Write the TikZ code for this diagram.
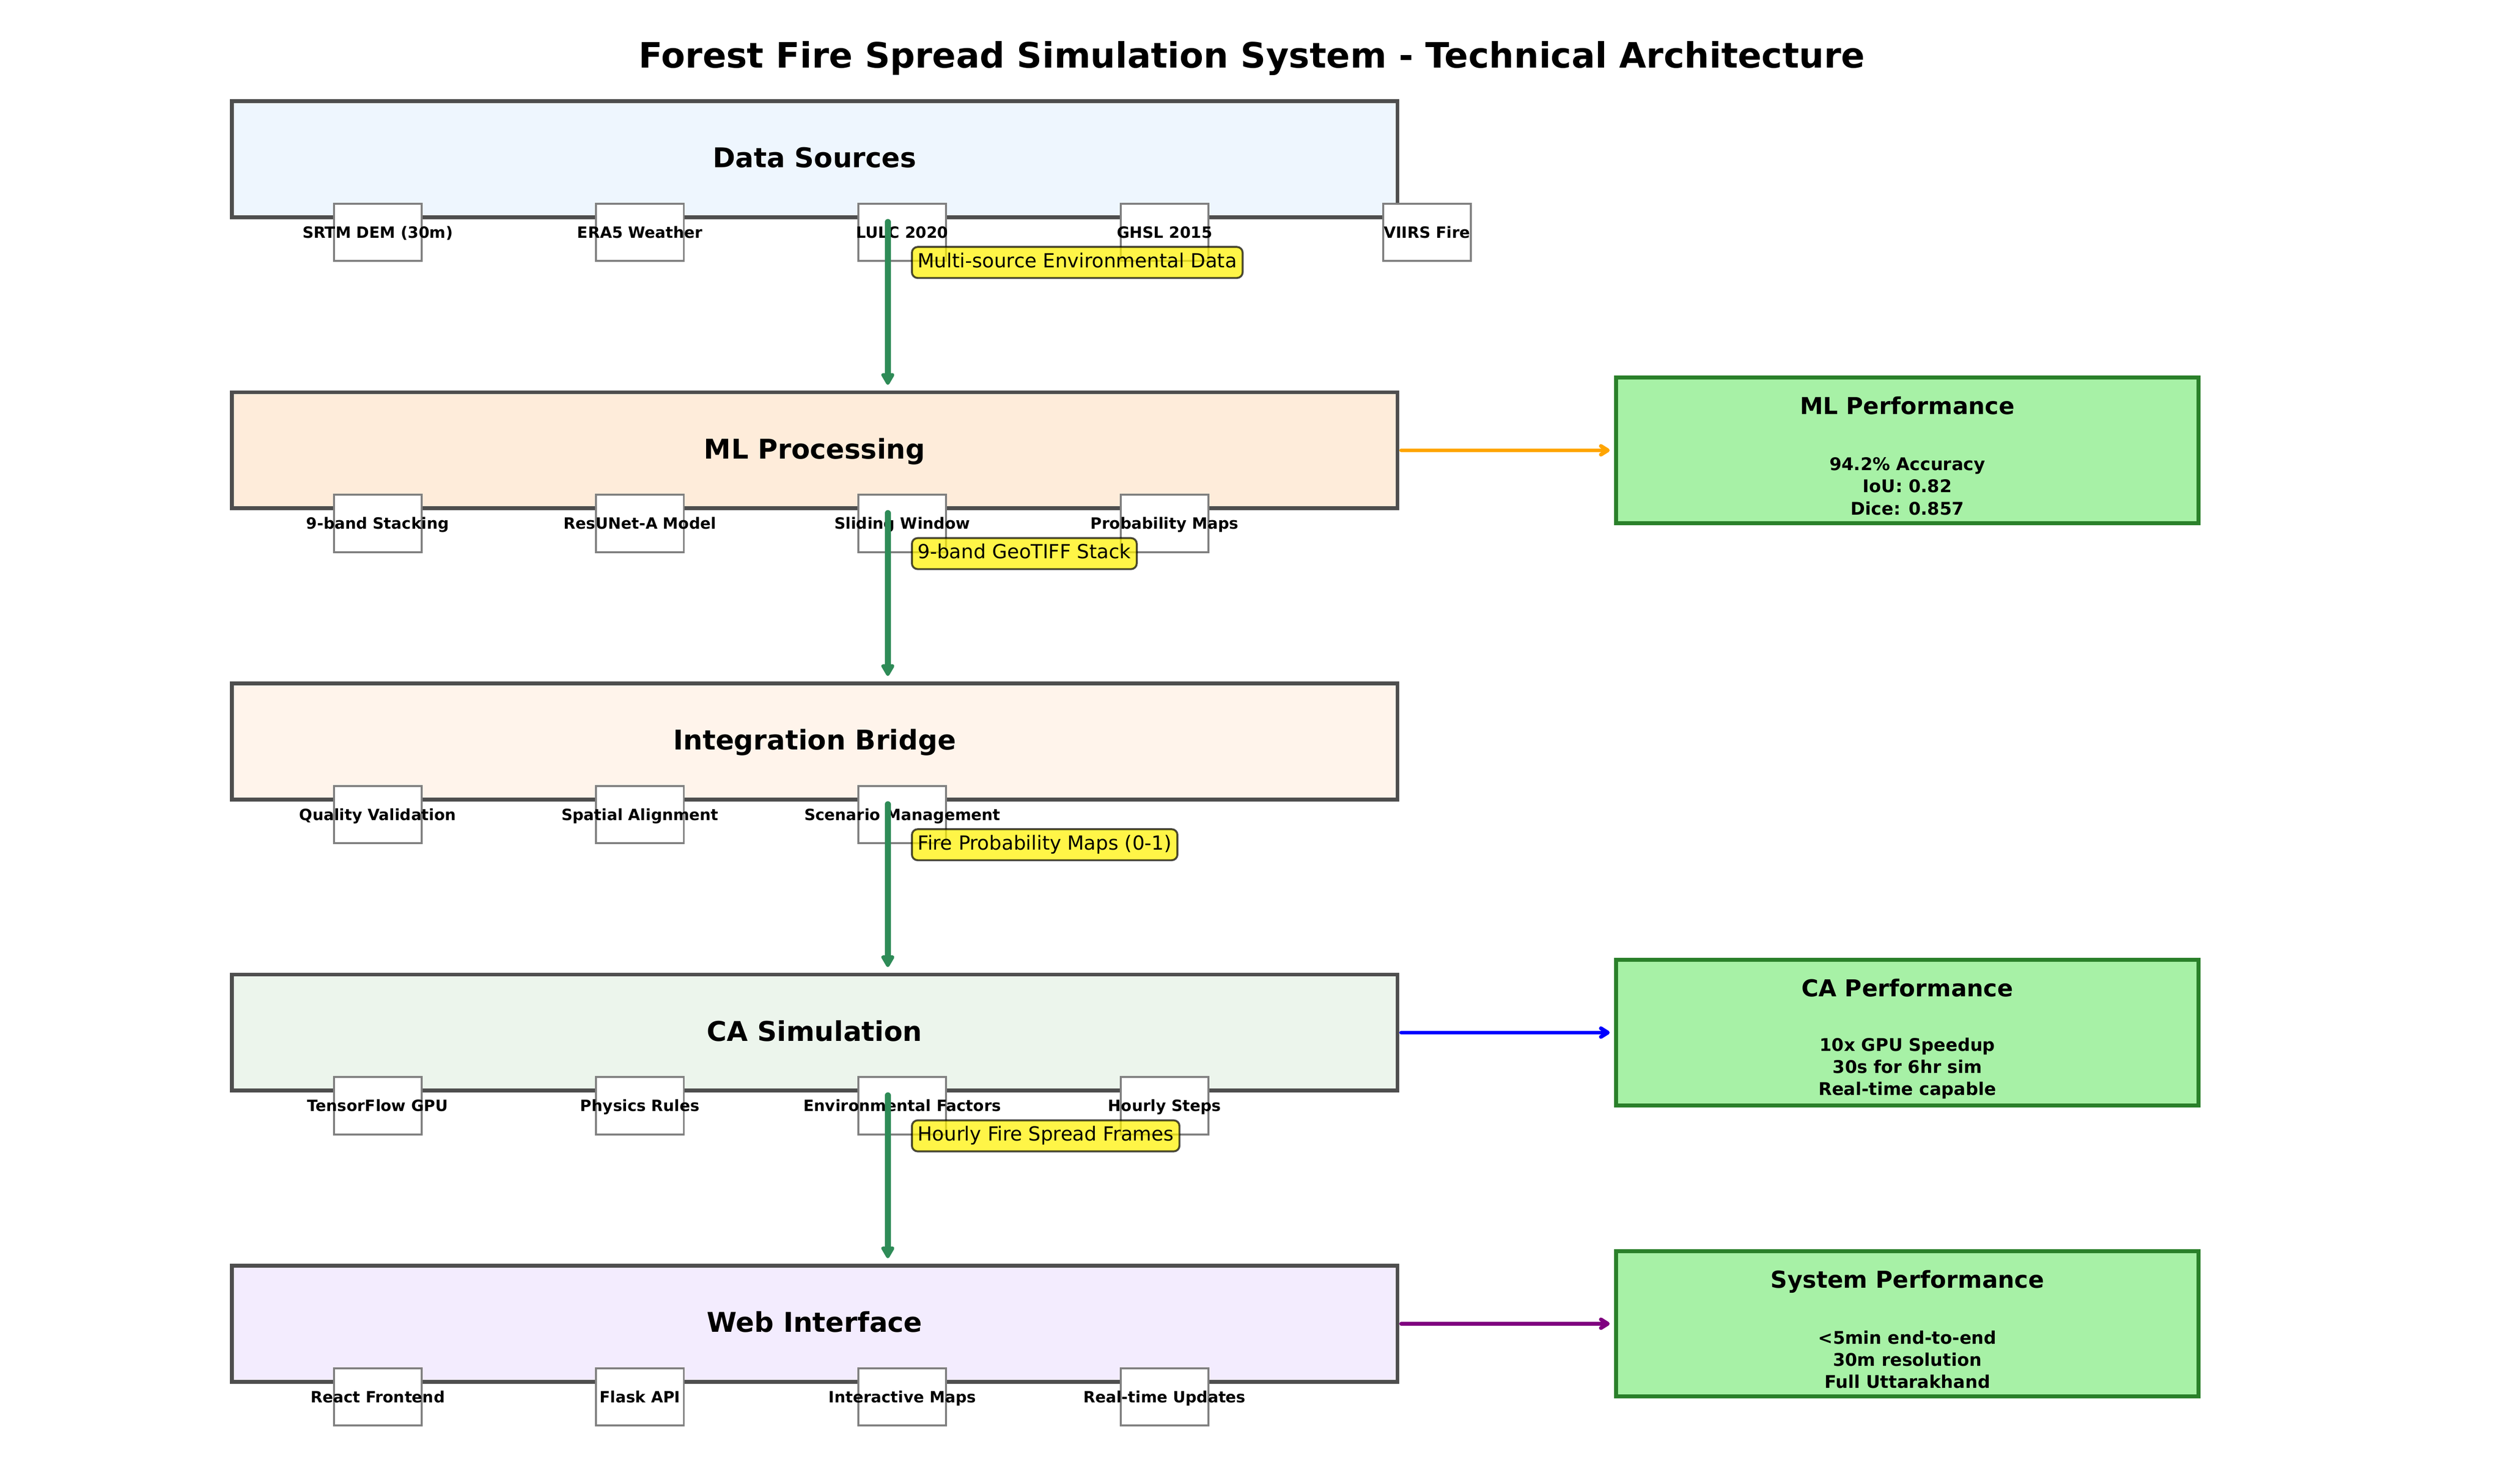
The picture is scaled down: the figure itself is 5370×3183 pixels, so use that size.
\documentclass[tikz,border=0pt]{standalone}
\usepackage{fontspec}
\setmainfont{DejaVu Sans}
\usetikzlibrary{arrows.meta,calc}
\definecolor{dsfill}{RGB}{238,246,254}
\definecolor{mlfill}{RGB}{254,236,218}
\definecolor{ibfill}{RGB}{255,244,235}
\definecolor{cafill}{RGB}{236,245,236}
\definecolor{wifill}{RGB}{243,236,254}
\definecolor{layeredge}{RGB}{78,78,78}
\definecolor{perffill}{RGB}{167,241,166}
\definecolor{perfedge}{RGB}{42,128,42}
\definecolor{flowgreen}{RGB}{46,139,87}
\definecolor{mlorange}{RGB}{255,165,0}
\definecolor{capurple}{RGB}{128,0,128}
\definecolor{smalledge}{RGB}{128,128,128}
\tikzset{
  layer/.style={draw=layeredge, line width=2pt, minimum width=600pt, minimum height=59.76pt,
    inner sep=0pt, outer sep=0pt, font=\fontsize{14}{16.8}\selectfont\bfseries,
    text height=11.36pt, text depth=2.64pt},
  sbox/.style={draw=smalledge, fill=white, line width=1pt, minimum width=45.12pt,
    minimum height=29.52pt, inner sep=0pt, outer sep=0pt},
  slabel/.style={inner sep=0pt, font=\fontsize{8}{9.6}\selectfont\bfseries,
    text height=6.88pt, text depth=1.12pt},
  flowlabel/.style={anchor=west, draw=black, fill=yellow, draw opacity=0.7, fill opacity=0.72,
    text opacity=1, line width=1pt, rounded corners=3pt, inner sep=3pt,
    font=\fontsize{10}{12}\selectfont, text height=7.6pt, text depth=2.4pt},
  perfbox/.style={draw=perfedge, fill=perffill, line width=2pt, minimum width=299.76pt,
    minimum height=74.88pt, inner sep=0pt, outer sep=0pt},
  perftitle/.style={inner sep=0pt, font=\fontsize{12}{14.4}\selectfont\bfseries,
    text height=9.12pt, text depth=2.88pt},
  perfbody/.style={inner sep=0pt, align=center, font=\fontsize{9}{11.4}\selectfont\bfseries},
  flow/.style={draw=flowgreen, fill=flowgreen, line width=3pt, line cap=round,
    -{Triangle[length=7pt,width=7.5pt,round]}},
  perfarrow/.style={line width=2pt, line cap=round,
    -{Straight Barb[length=3.5pt,width=4.4pt,round]}},
  titletext/.style={inner sep=0pt, font=\fontsize{18}{21.6}\selectfont\bfseries,
    text height=13.68pt, text depth=4.32pt}
}
\begin{document}
\begin{tikzpicture}[x=0.24pt,y=-0.24pt]
\useasboundingbox (0,0) rectangle (5370,3183);
\fill[white] (0,0) rectangle (5370,3183);

\node[titletext] (title) at (2685,126) {Forest Fire Spread Simulation System - Technical Architecture};

% layers
\node[layer, fill=dsfill] (L1) at (1747,341.5) {Data Sources};
\node[layer, fill=mlfill] (L2) at (1747,966) {ML Processing};
\node[layer, fill=ibfill] (L3) at (1747,1590.5) {Integration Bridge};
\node[layer, fill=cafill] (L4) at (1747,2215) {CA Simulation};
\node[layer, fill=wifill] (L5) at (1747,2839.5) {Web Interface};

% small component boxes
\node[sbox] (s11) at (810,498.5) {};
\node[sbox] (s12) at (1372.5,498.5) {};
\node[sbox] (s13) at (1935,498.5) {};
\node[sbox] (s14) at (2497.5,498.5) {};
\node[sbox] (s15) at (3060,498.5) {};
\node[slabel] (t11) at (s11) {SRTM DEM (30m)};
\node[slabel] (t12) at (s12) {ERA5 Weather};
\node[slabel] (t13) at (s13) {LULC 2020};
\node[slabel] (t14) at (s14) {GHSL 2015};
\node[slabel] (t15) at (s15) {VIIRS Fire};

\node[sbox] (s21) at (810,1123) {};
\node[sbox] (s22) at (1372.5,1123) {};
\node[sbox] (s23) at (1935,1123) {};
\node[sbox] (s24) at (2497.5,1123) {};
\node[slabel] (t21) at (s21) {9-band Stacking};
\node[slabel] (t22) at (s22) {ResUNet-A Model};
\node[slabel] (t23) at (s23) {Sliding Window};
\node[slabel] (t24) at (s24) {Probability Maps};

\node[sbox] (s31) at (810,1747.5) {};
\node[sbox] (s32) at (1372.5,1747.5) {};
\node[sbox] (s33) at (1935,1747.5) {};
\node[slabel] (t31) at (s31) {Quality Validation};
\node[slabel] (t32) at (s32) {Spatial Alignment};
\node[slabel] (t33) at (s33) {Scenario Management};

\node[sbox] (s41) at (810,2372) {};
\node[sbox] (s42) at (1372.5,2372) {};
\node[sbox] (s43) at (1935,2372) {};
\node[sbox] (s44) at (2497.5,2372) {};
\node[slabel] (t41) at (s41) {TensorFlow GPU};
\node[slabel] (t42) at (s42) {Physics Rules};
\node[slabel] (t43) at (s43) {Environmental Factors};
\node[slabel] (t44) at (s44) {Hourly Steps};

\node[sbox] (s51) at (810,2996.5) {};
\node[sbox] (s52) at (1372.5,2996.5) {};
\node[sbox] (s53) at (1935,2996.5) {};
\node[sbox] (s54) at (2497.5,2996.5) {};
\node[slabel] (t51) at (s51) {React Frontend};
\node[slabel] (t52) at (s52) {Flask API};
\node[slabel] (t53) at (s53) {Interactive Maps};
\node[slabel] (t54) at (s54) {Real-time Updates};

% performance boxes
\node[perfbox] (P1) at (4090.5,966) {};
\node[perfbox] (P2) at (4090.5,2215) {};
\node[perfbox] (P3) at (4090.5,2839.5) {};
\node[perftitle] (p1t) at (4090.5,876) {ML Performance};
\node[perfbody] (p1b) at (4090.5,1043) {94.2\% Accuracy\\IoU: 0.82\\Dice: 0.857};
\node[perftitle] (p2t) at (4090.5,2125) {CA Performance};
\node[perfbody] (p2b) at (4090.5,2292) {10x GPU Speedup\\30s for 6hr sim\\Real-time capable};
\node[perftitle] (p3t) at (4090.5,2749.5) {System Performance};
\node[perfbody] (p3b) at (4090.5,2916.5) {<5min end-to-end\\30m resolution\\Full Uttarakhand};

% vertical data-flow arrows
\draw[flow] ([xshift=37.68pt,yshift=-2.4pt]L1.south) -- ([xshift=37.68pt,yshift=3.84pt]L2.north);
\draw[flow] ([xshift=37.68pt,yshift=-2.4pt]L2.south) -- ([xshift=37.68pt,yshift=3.84pt]L3.north);
\draw[flow] ([xshift=37.68pt,yshift=-2.4pt]L3.south) -- ([xshift=37.68pt,yshift=3.84pt]L4.north);
\draw[flow] ([xshift=37.68pt,yshift=-2.4pt]L4.south) -- ([xshift=37.68pt,yshift=3.84pt]L5.north);

% flow labels
\node[flowlabel] (f1) at (1953.5,563) {Multi-source Environmental Data};
\node[flowlabel] (f2) at (1953.5,1187.5) {9-band GeoTIFF Stack};
\node[flowlabel] (f3) at (1953.5,1812) {Fire Probability Maps (0-1)};
\node[flowlabel] (f4) at (1953.5,2436.5) {Hourly Fire Spread Frames};

% performance arrows
\draw[perfarrow, draw=mlorange] ([xshift=1.92pt]L2.east) -- ([xshift=-3.36pt]P1.west);
\draw[perfarrow, draw=blue] ([xshift=1.92pt]L4.east) -- ([xshift=-3.36pt]P2.west);
\draw[perfarrow, draw=capurple] ([xshift=1.92pt]L5.east) -- ([xshift=-3.36pt]P3.west);
\end{tikzpicture}
\end{document}
